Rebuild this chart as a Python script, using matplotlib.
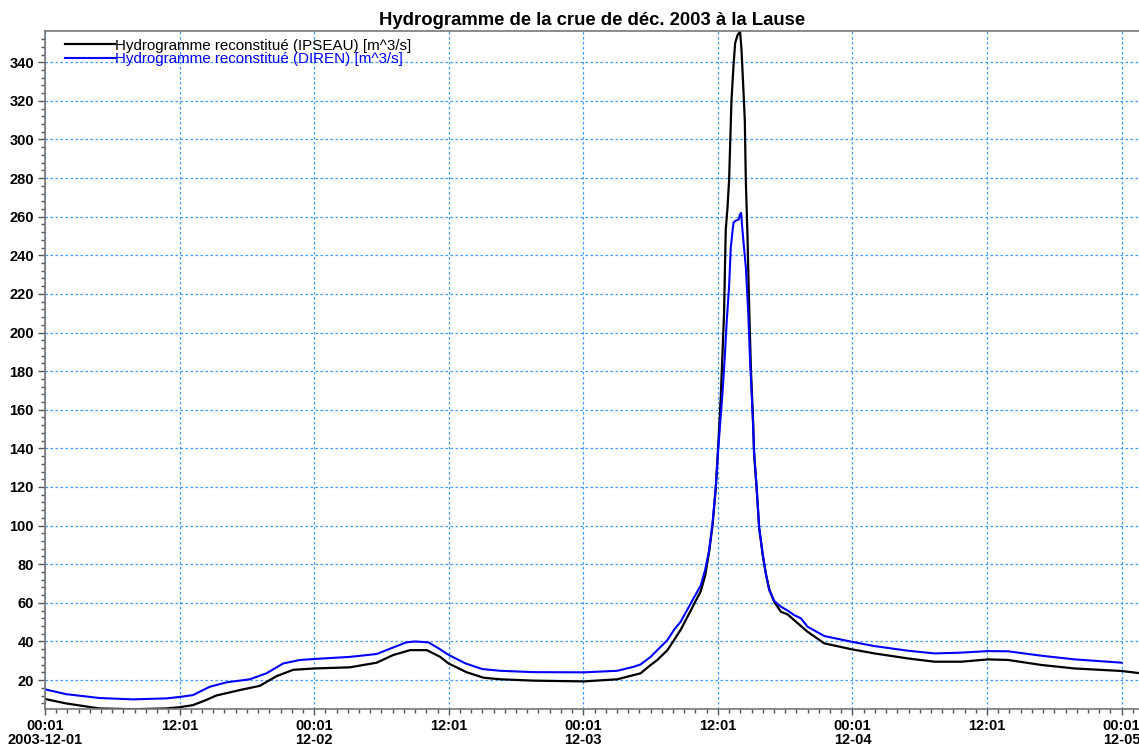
import matplotlib
matplotlib.use("Agg")
import matplotlib.pyplot as plt
import matplotlib.dates as mdates
import numpy as np
import pandas as pd

plt.rcParams['font.family'] = ['Liberation Sans', 'DejaVu Sans']

start = pd.Timestamp('2003-12-01 00:01')

# hours since start, flow in m3/s
h_ipseau = [0, 1.88, 4.85, 7.83, 10.81, 11.94, 13.19, 14.3, 15.28, 17.36, 19.15, 20.64, 22.13,
            24.0, 27.19, 29.58, 31.06, 32.56, 34.05, 35.24, 35.98, 37.62, 39.11, 40.6,
            43.57, 48.04, 51.03, 52.51, 53.11, 54.0, 54.6, 55.5, 56.09, 56.68, 57.58,
            58.47, 58.86, 59.21, 59.52, 59.81, 60.11, 60.26, 60.41, 60.55, 60.70, 60.86,
            61.0, 61.21, 61.39, 61.54, 61.75, 61.98, 62.11, 62.25, 62.40, 62.49, 62.64,
            62.79, 62.94, 63.15, 63.23, 63.45, 63.68, 63.99, 64.28, 64.58, 65.02, 65.62,
            66.22, 66.81, 68.0, 69.49, 71.96, 73.96, 76.94, 79.32, 81.7, 84.09, 85.88,
            88.86, 91.83, 96.0, 97.7]
q_ipseau = [10.2, 7.9, 5.3, 4.9, 5.3, 5.9, 7.0, 9.5, 12.0, 14.8, 17.0, 22.0, 25.3,
            26.0, 26.6, 29.0, 33.0, 35.5, 35.5, 32.0, 28.6, 24.0, 21.2, 20.4,
            19.7, 19.3, 20.4, 22.6, 23.5, 27.8, 30.4, 35.5, 40.7, 46.0, 56.0,
            66.0, 74.0, 86.0, 100.0, 119.0, 150.0, 167.0, 189.0, 210.0, 253.0, 265.0,
            279.0, 320.0, 338.0, 350.0, 354.0, 356.0, 346.0, 329.0, 310.0, 279.0, 250.0,
            213.0, 182.0, 152.0, 137.0, 120.0, 99.0, 85.0, 75.0, 67.0, 60.5, 55.4,
            54.0, 51.0, 45.0, 39.0, 35.9, 33.8, 31.2, 29.5, 29.5, 30.7, 30.4,
            27.8, 26.0, 24.7, 23.5]

h_diren = [0, 1.88, 4.85, 7.83, 10.81, 11.94, 13.19, 14.68, 16.17, 18.26, 19.75, 21.24,
           22.73, 24.0, 25.7, 27.19, 29.58, 31.06, 32.2, 33.0, 34.2, 35.1, 36.0, 37.5,
           39.0, 40.6, 43.57, 48.04, 51.03, 52.51, 53.11, 54.0, 54.6, 55.5, 56.09, 56.68,
           57.58, 58.47, 58.86, 59.21, 59.52, 59.81, 60.0, 60.19, 60.41, 60.61, 60.79,
           61.0, 61.15, 61.39, 61.6, 61.85, 61.96, 62.07, 62.22, 62.49, 62.71, 62.88,
           63.1, 63.23, 63.45, 63.68, 63.99, 64.28, 64.58, 65.02, 65.62, 66.22, 66.81,
           67.4, 68.0, 69.49, 71.96, 73.96, 76.94, 79.32, 81.7, 84.09, 85.88, 88.86,
           91.83, 96.0]
q_diren = [15.2, 12.7, 10.7, 10.0, 10.5, 11.2, 12.2, 16.5, 18.8, 20.4, 23.5, 28.6,
           30.4, 30.9, 31.5, 32.0, 33.5, 36.9, 39.5, 40.0, 39.5, 36.4, 33.0, 28.6,
           25.7, 24.8, 24.1, 24.0, 24.8, 26.9, 28.1, 32.0, 35.5, 40.7, 46.0, 50.2,
           59.7, 69.0, 77.0, 87.0, 101.0, 120.0, 137.0, 152.0, 168.6, 187.0, 206.0,
           224.0, 244.0, 257.0, 258.0, 258.5, 261.0, 262.0, 251.0, 234.0, 210.0, 184.0,
           158.0, 138.0, 120.0, 99.0, 85.6, 75.0, 66.6, 61.0, 58.0, 56.0, 53.6,
           52.0, 47.6, 42.8, 39.8, 37.6, 35.2, 33.8, 34.2, 35.0, 34.9, 32.6,
           30.7, 29.0]

tick_hours = [0, 12, 24, 36, 48, 60, 72, 84, 96]
tick_labels = ['00:01\n2003-12-01', '12:01', '00:01\n12-02', '12:01', '00:01\n12-03',
               '12:01', '00:01\n12-04', '12:01', '00:01\n12-05']


def to_num(hours):
    return mdates.date2num(start + pd.to_timedelta(np.asarray(hours), unit='h'))


fig = plt.figure(figsize=(11.39, 7.45), dpi=100)
ax = fig.add_axes([0.0395, 0.0483, 0.9605, 0.9101])

ax.plot(to_num(h_ipseau), q_ipseau, color='black', lw=1.6,
        label='Hydrogramme reconstitué (IPSEAU) [m^3/s]')
ax.plot(to_num(h_diren), q_diren, color='#0000ff', lw=1.5,
        label='Hydrogramme reconstitué (DIREN) [m^3/s]')

ax.set_xlim(to_num(0), to_num(97.55))
ax.set_ylim(5, 356.2)

ax.set_xticks(to_num(tick_hours))
ax.set_xticklabels(tick_labels, linespacing=1.0)
ax.set_xticks(to_num(np.arange(0, 98)), minor=True)
ax.set_yticks(np.arange(20, 341, 20))
ax.set_yticks(np.arange(8, 356, 4), minor=True)

ax.grid(True, which='major', color='#3c9bff', linestyle=(0, (2, 2)), lw=0.9)
ax.tick_params(which='major', length=5, width=1, color='#555555', labelsize=10.5)
ax.tick_params(which='minor', length=3, width=1, color='#555555')
ax.tick_params(axis='x', which='major', length=4, pad=3)
ax.tick_params(axis='y', which='major', pad=3)
for lbl in ax.get_xticklabels() + ax.get_yticklabels():
    lbl.set_fontweight('bold')
for side in ['top', 'left', 'bottom']:
    ax.spines[side].set_color('#777777')
    ax.spines[side].set_linewidth(1.2)
ax.spines['right'].set_visible(False)

ax.set_title('Hydrogramme de la crue de déc. 2003 à la Lause', fontsize=13.3,
             fontweight='bold', pad=4)

ax.legend(loc='upper left', frameon=False, fontsize=10.9, handlelength=3.3,
          handletextpad=0.05, labelspacing=-0.05, borderaxespad=0.1,
          bbox_to_anchor=(0.011, 1.0), labelcolor='linecolor')

fig.savefig('out.png', dpi=100)
